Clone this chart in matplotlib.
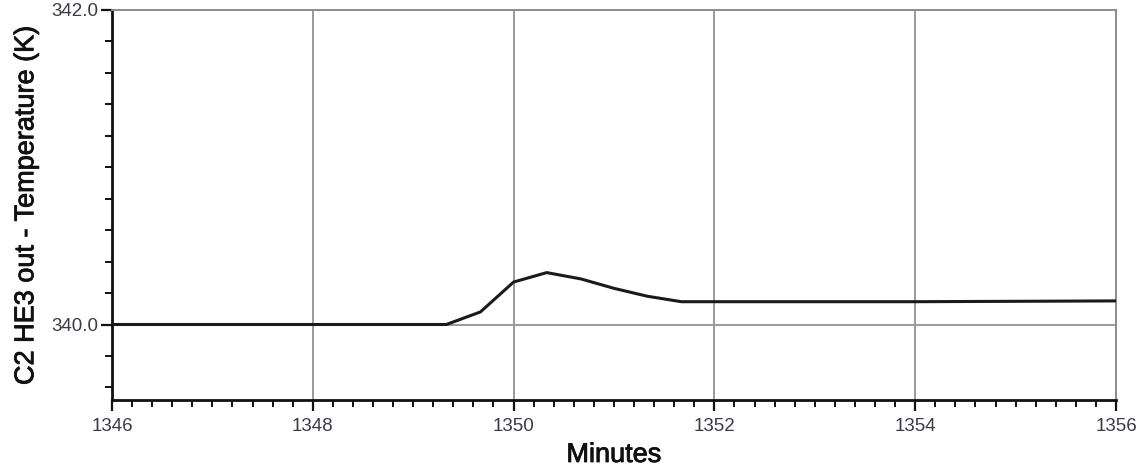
import matplotlib
matplotlib.use("Agg")
import matplotlib.pyplot as plt
import matplotlib.patheffects as pe
from matplotlib.ticker import MultipleLocator, FormatStrFormatter

# Outlet temperature of C2 HE3, sampled every 20 s
minutes = [1346.0, 1349.33, 1349.67, 1350.0, 1350.33, 1350.67, 1351.0,
           1351.33, 1351.67, 1352.0, 1354.0, 1356.0]
temperature_k = [340.0, 340.0, 340.08, 340.27, 340.33, 340.29, 340.23,
                 340.18, 340.145, 340.145, 340.145, 340.15]

x_limits = (1346, 1356)
y_limits = (339.52, 342.0)

plt.rcParams["font.family"] = ["Liberation Sans", "DejaVu Sans"]

fig = plt.figure(figsize=(11.47, 4.67), dpi=100)
ax = fig.add_axes([0.0976, 0.1435, 0.8754, 0.8351])

ax.plot(minutes, temperature_k, color="#1a1a1a", linewidth=2.2, zorder=3)

ax.set_xlim(*x_limits)
ax.set_ylim(*y_limits)

ax.xaxis.set_major_locator(MultipleLocator(2))
ax.xaxis.set_minor_locator(MultipleLocator(0.2))
ax.yaxis.set_major_locator(MultipleLocator(2))
ax.yaxis.set_minor_locator(MultipleLocator(0.2))
ax.yaxis.set_major_formatter(FormatStrFormatter("%.1f"))

ax.grid(True, which="major", color="#9a9a9a", linewidth=1.4, zorder=1)

for side in ("left", "bottom"):
    ax.spines[side].set_color("#111111")
    ax.spines[side].set_linewidth(2.0)
for side in ("top", "right"):
    ax.spines[side].set_color("#8c8c8c")
    ax.spines[side].set_linewidth(1.4)

ax.tick_params(which="major", length=8, width=1.6, color="#111111",
               labelsize=13.5, labelcolor="#3a3a4a", pad=5)
ax.tick_params(axis="y", which="major", pad=1.5)
ax.tick_params(which="minor", length=5, width=1.4, color="#111111")

heavier = [pe.withStroke(linewidth=0.6, foreground="#111111")]
ax.set_xlabel("Minutes", fontsize=19.5, color="#111111", labelpad=5,
              path_effects=heavier)
ax.set_ylabel("C2 HE3 out - Temperature (K)", fontsize=19.5, color="#111111",
              labelpad=9, path_effects=heavier)

fig.savefig("out.png", dpi=100, facecolor="white")
